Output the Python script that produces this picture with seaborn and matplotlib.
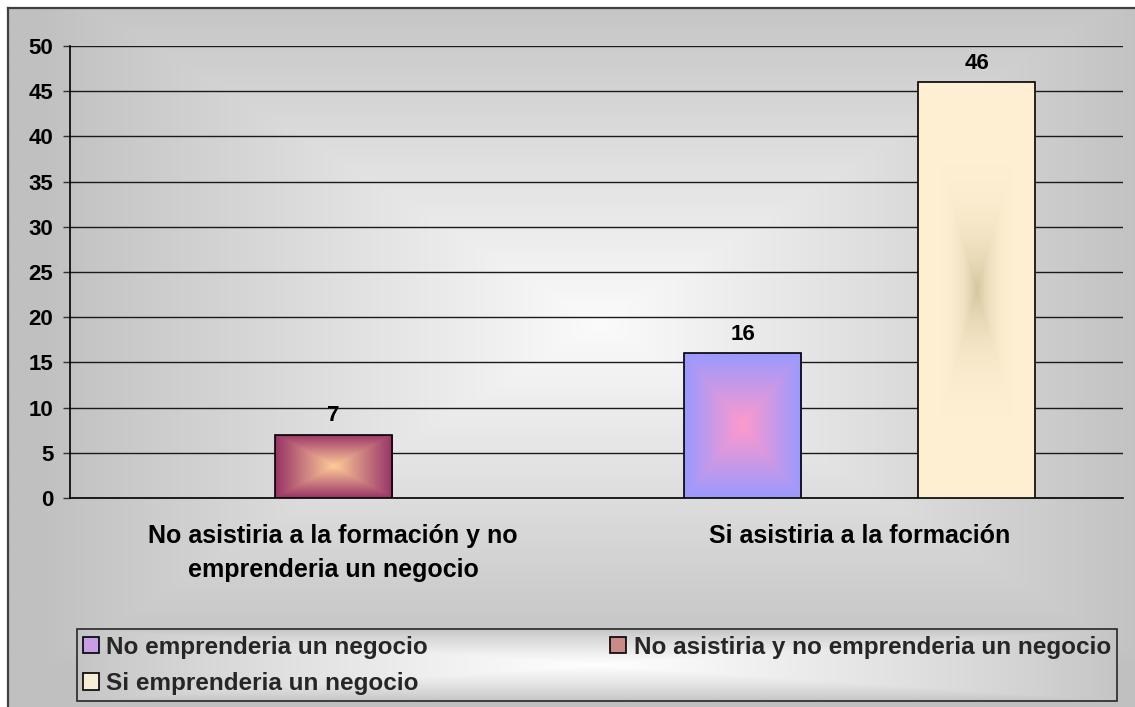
import numpy as np
import pandas as pd
import matplotlib
matplotlib.use("Agg")
import matplotlib.pyplot as plt
import seaborn as sns
from matplotlib.colors import to_rgb
from matplotlib.patches import Patch

# ---------------- data ----------------
categories = ["No asistiria a la formación y no\nemprenderia un negocio",
              "Si asistiria a la formación"]
series = ["No emprenderia un negocio",
          "No asistiria y no emprenderia un negocio",
          "Si emprenderia un negocio"]
no_emprenderia = [np.nan, 16]
no_asistiria = [7, np.nan]
si_emprenderia = [np.nan, 46]
y_ticks = list(range(0, 51, 5))

edge_colors = ["#9999FF", "#993366", "#FFF0D4"]
center_colors = ["#FF99CC", "#FFCC99", "#D4C69E"]
grad_power = [1.0, 1.0, 4.0]
legend_colors = ["#C79DE6", "#CC8A86", "#F6EDD6"]

rows = []
for name, vals in zip(series, [no_emprenderia, no_asistiria, si_emprenderia]):
    for c, v in zip(categories, vals):
        rows.append((c, name, v))
df = pd.DataFrame(rows, columns=["categoria", "serie", "valor"]).dropna()

# ---------------- style ----------------
sns.set_theme(style="white")
plt.rcParams['font.family'] = ['Liberation Sans', 'DejaVu Sans']
plt.rcParams['font.weight'] = 'bold'

W, H = 1135, 707
fig = plt.figure(figsize=(W / 100, H / 100), dpi=100)
fig.patch.set_facecolor('white')


def rect_gradient(center, edge, nx, ny, power=1.0, cx=0.0, cy=0.0):
    u = np.linspace(-1, 1, nx) - cx
    v = np.linspace(-1, 1, ny) - cy
    U, V = np.meshgrid(u, v)
    t = np.clip(np.maximum(np.abs(U), np.abs(V)), 0, 1)
    wc = (1 - t) ** power
    c = np.array(to_rgb(center))
    e = np.array(to_rgb(edge))
    return wc[..., None] * c + (1 - wc[..., None]) * e


# chart-area background
bg_ax = fig.add_axes([8 / W, 0, 1 - 8 / W, 1 - 8 / H], zorder=0)
bg_ax.imshow(rect_gradient("#FBFBFB", "#C0C0C0", 400, 300, 1.0, 0.05, -0.1),
             extent=[0, 1, 0, 1], aspect='auto', interpolation='bilinear')
bg_ax.set_xticks([]); bg_ax.set_yticks([])
bg_ax.set_xlim(0, 1); bg_ax.set_ylim(0, 1)
for s in ['right', 'bottom']:
    bg_ax.spines[s].set_visible(False)
for s in ['left', 'top']:
    bg_ax.spines[s].set_color('#404040')
    bg_ax.spines[s].set_linewidth(1.6)

# legend background
leg_left, leg_right, leg_top, leg_bottom = 77, 1117, 629, 701
lg_ax = fig.add_axes([leg_left / W, 1 - leg_bottom / H,
                      (leg_right - leg_left) / W, (leg_bottom - leg_top) / H], zorder=1)
lg_ax.imshow(rect_gradient("#FFFFFF", "#C4C4C4", 400, 100, 0.8),
             extent=[0, 1, 0, 1], aspect='auto', interpolation='bilinear')
lg_ax.axis('off')

# main axes
ax = fig.add_axes([70 / W, 1 - 498 / H, (1123 - 70) / W, (498 - 46) / H], zorder=2)
ax.patch.set_alpha(0)

sns.barplot(data=df, x="categoria", y="valor", hue="serie",
            order=categories, hue_order=series,
            palette=dict(zip(series, edge_colors)), saturation=1,
            width=0.667, dodge=True, legend=False, ax=ax,
            edgecolor='black', linewidth=1.2, zorder=3)

# gradient fills inside bars
for cont in ax.containers:
    for bar in cont:
        h = bar.get_height()
        if np.isnan(h):
            continue
        fc = bar.get_facecolor()[:3]
        i = int(np.argmin([np.sum((np.array(fc) - np.array(to_rgb(c))) ** 2)
                           for c in edge_colors]))
        x0, y0, w = bar.get_x(), bar.get_y(), bar.get_width()
        img = rect_gradient(center_colors[i], edge_colors[i], 120, 240, grad_power[i])
        im = ax.imshow(img, extent=[x0, x0 + w, y0, y0 + h], aspect='auto',
                       interpolation='bilinear', zorder=2.9)
        im.set_clip_path(bar)
        bar.set_facecolor('none')
    ax.bar_label(cont, fmt='%g', padding=6, fontsize=16, fontweight='bold', color='black')

ax.set_xlim(-0.5, 1.5)
ax.set_ylim(0, 50)
ax.set_yticks(y_ticks)
ax.set_yticklabels([str(t) for t in y_ticks], fontsize=16, fontweight='bold')
ax.set_xticks(range(len(categories)))
ax.set_xticklabels(categories, fontsize=18, fontweight='bold', linespacing=1.5)
ax.set_xticks([-0.5, 0.5, 1.5], minor=True)
ax.set_xlabel("")
ax.set_ylabel("")
ax.tick_params(axis='x', which='major', length=0, pad=19, colors='black')
ax.tick_params(axis='x', which='minor', length=7, width=1.5, color='#555555')
ax.tick_params(axis='y', which='major', length=5, width=1, color='#333333', pad=7,
               left=True, labelcolor='black')
ax.grid(axis='y', color='#1a1a1a', linewidth=1)
ax.set_axisbelow(True)
for s in ['top', 'right']:
    ax.spines[s].set_visible(False)
for s in ['left', 'bottom']:
    ax.spines[s].set_color('black')
    ax.spines[s].set_linewidth(1.2)

# legend
order = [0, 2, 1]
handles = [Patch(facecolor=legend_colors[k], edgecolor='black', linewidth=1.2) for k in order]
labels = [series[k] for k in order]
leg = fig.legend(handles, labels, ncol=2, loc='lower left',
                 bbox_to_anchor=(leg_left / W, 1 - leg_bottom / H,
                                 (leg_right - leg_left) / W, (leg_bottom - leg_top) / H),
                 mode='expand', borderaxespad=0, frameon=True, fancybox=False,
                 prop={'size': 17.5, 'weight': 'bold'},
                 handlelength=0.66, handleheight=0.66, handletextpad=0.3,
                 borderpad=0.25, labelspacing=0.55, columnspacing=1.0)
leg.get_frame().set_edgecolor('black')
leg.get_frame().set_facecolor('none')
leg.get_frame().set_linewidth(1.2)

fig.savefig("out.png", dpi=100)
